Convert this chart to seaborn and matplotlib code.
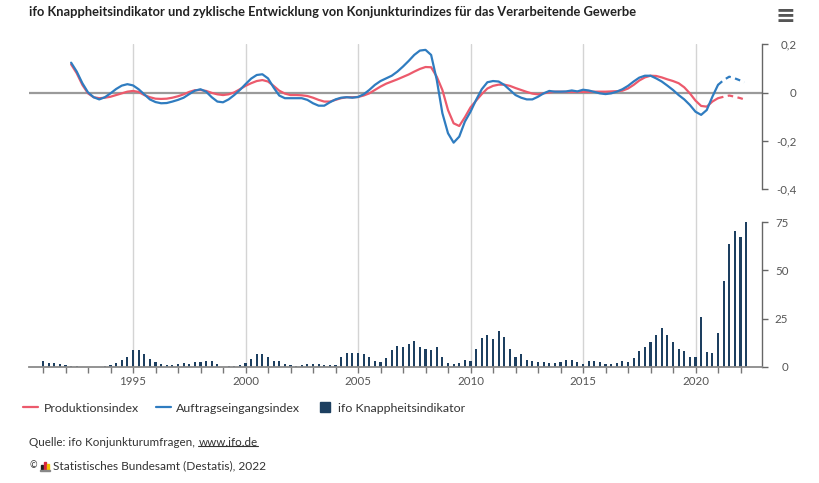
import numpy as np
import pandas as pd
import matplotlib
matplotlib.use("Agg")
import matplotlib.pyplot as plt
import seaborn as sns
from matplotlib.lines import Line2D
from matplotlib.patches import Rectangle
from matplotlib.ticker import FixedLocator, FuncFormatter

# ---------------- data ----------------
line_years = np.append(np.arange(1992.25, 2022.01, 0.25), 2022.17)

auftragseingang = [
    0.124, 0.087, 0.039, 0.001, -0.019, -0.028, -0.019, -0.003,   # 1992.25-1994.0
    0.015, 0.029, 0.035, 0.030, 0.014, -0.007, -0.028, -0.039,    # 1994.25-1996.0
    -0.044, -0.043, -0.037, -0.030, -0.021, -0.006, 0.008, 0.014, # 1996.25-1998.0
    0.004, -0.019, -0.037, -0.040, -0.028, -0.010, 0.011, 0.035,  # 1998.25-2000.0
    0.058, 0.073, 0.076, 0.059, 0.021, -0.012, -0.023, -0.023,    # 2000.25-2002.0
    -0.023, -0.023, -0.030, -0.044, -0.054, -0.054, -0.040, -0.028,  # 2002.25-2004.0
    -0.021, -0.019, -0.021, -0.018, -0.007, 0.011, 0.032, 0.048,  # 2004.25-2006.0
    0.059, 0.070, 0.087, 0.108, 0.131, 0.156, 0.174, 0.177,       # 2006.25-2008.0
    0.156, 0.053, -0.085, -0.168, -0.207, -0.182, -0.120, -0.079, # 2008.25-2010.0
    -0.030, 0.014, 0.043, 0.048, 0.046, 0.032, 0.011, -0.010,     # 2010.25-2012.0
    -0.021, -0.028, -0.028, -0.017, -0.003, 0.007, 0.004, 0.004,  # 2012.25-2014.0
    0.005, 0.009, 0.005, 0.012, 0.009, 0.003, -0.003, -0.006,     # 2014.25-2016.0
    -0.003, 0.004, 0.014, 0.028, 0.046, 0.062, 0.070, 0.070,      # 2016.25-2018.0
    0.059, 0.046, 0.029, 0.011, -0.010, -0.028, -0.051, -0.079,   # 2018.25-2020.0
    -0.092, -0.072, -0.017, 0.032, 0.052, 0.066, 0.059, 0.050,    # 2020.25-2022.0
    0.043,
]

produktion = [
    0.117, 0.080, 0.032, -0.003, -0.019, -0.023, -0.021, -0.017,
    -0.010, -0.003, 0.004, 0.007, 0.003, -0.010, -0.019, -0.025,
    -0.026, -0.025, -0.021, -0.015, -0.007, 0.003, 0.010, 0.011,
    0.007, -0.001, -0.007, -0.010, -0.007, 0.001, 0.014, 0.028,
    0.039, 0.048, 0.052, 0.046, 0.028, 0.008, -0.004, -0.010,
    -0.010, -0.011, -0.014, -0.021, -0.030, -0.037, -0.037, -0.030,
    -0.023, -0.019, -0.019, -0.018, -0.012, -0.003, 0.011, 0.025,
    0.037, 0.046, 0.055, 0.065, 0.075, 0.087, 0.098, 0.106,
    0.105, 0.066, 0.011, -0.072, -0.127, -0.138, -0.102, -0.061,
    -0.033, -0.006, 0.017, 0.028, 0.033, 0.033, 0.028, 0.019,
    0.011, 0.003, -0.004, -0.007, -0.003, 0.001, 0.004, 0.004,
    0.003, 0.003, 0.003, 0.003, 0.003, 0.004, 0.004, 0.004,
    0.005, 0.006, 0.008, 0.017, 0.032, 0.050, 0.063, 0.070,
    0.069, 0.063, 0.055, 0.048, 0.039, 0.022, -0.003, -0.033,
    -0.055, -0.058, -0.037, -0.023, -0.017, -0.012, -0.017, -0.023,
    -0.028,
]

bar_years = np.arange(1991.0, 2022.26, 0.25)
knappheit = [
    2.8, 1.9, 1.9, 1.4,    # 1991
    1.0, 0.5, 0.5, 0.0,    # 1992
    0.0, 0.0, 0.0, 0.5,    # 1993
    0.7, 1.9, 3.6, 5.0,    # 1994
    8.7, 8.7, 6.4, 4.0,    # 1995
    2.4, 1.4, 0.9, 0.9,    # 1996
    1.4, 1.9, 1.4, 2.3,    # 1997
    2.3, 3.1, 2.8, 1.4,    # 1998
    0.0, 0.5, 0.5, 1.0,    # 1999
    1.9, 4.0, 6.8, 6.8,    # 2000
    5.0, 3.1, 2.8, 1.4,    # 2001
    0.9, 0.5, 0.9, 1.4,    # 2002
    1.4, 1.4, 0.9, 0.9,    # 2003
    0.9, 5.0, 7.2, 7.2,    # 2004
    7.2, 6.4, 5.0, 3.1,    # 2005
    2.7, 4.5, 8.7, 10.8,   # 2006
    10.4, 11.8, 13.1, 10.4,  # 2007
    9.1, 8.7, 10.4, 5.0,   # 2008
    1.8, 1.4, 1.8, 3.6,    # 2009
    3.2, 9.1, 14.9, 16.3,  # 2010
    14.5, 18.5, 15.5, 9.1,  # 2011
    5.0, 6.4, 3.6, 2.8,    # 2012
    2.3, 2.3, 1.8, 1.8,    # 2013
    2.3, 3.6, 3.6, 2.3,    # 2014
    1.3, 2.9, 2.9, 2.3,    # 2015
    1.3, 1.3, 1.8, 3.2,    # 2016
    2.3, 4.4, 8.2, 10.0,   # 2017
    12.7, 16.3, 19.9, 16.3,  # 2018
    12.7, 9.0, 8.2, 5.0,   # 2019
    5.0, 25.7, 7.6, 7.2,   # 2020
    17.6, 44.7, 63.8, 70.6,  # 2021
    67.4, 75.4,            # 2022
]

forecast_start = 2021.0
series_labels = ["Produktionsindex", "Auftragseingangsindex", "ifo Knappheitsindikator"]
top_ticks = [0.2, 0.0, -0.2, -0.4]
bottom_ticks = [0, 25, 50, 75]
label_years = [1995, 2000, 2005, 2010, 2015, 2020]

title = "ifo Knappheitsindikator und zyklische Entwicklung von Konjunkturindizes für das Verarbeitende Gewerbe"
source_prefix = "Quelle: ifo Konjunkturumfragen,"
source_link = "www.ifo.de"
copyright_txt = "Statistisches Bundesamt (Destatis), 2022"

# ---------------- style ----------------
RED = "#ec5a6c"
BLUE = "#2f7cc0"
NAVY = "#1d3f60"
GRID = "#d4d4d4"
TXT = "#333333"

sns.set_theme(style="white")
plt.rcParams["font.family"] = ["Lato", "DejaVu Sans"]

W, H = 819, 483
fig = plt.figure(figsize=(W / 100, H / 100), dpi=100)
fig.patch.set_facecolor("white")


def fx(px):
    return px / W


def fy(py):
    return 1 - py / H


L, R = 29, 762
TOP_Y0, TOP_Y1 = 44.3, 189.3
BOT_Y0, BOT_Y1 = 222.3, 366.7
xmin = 1990 + (L - 20.5) / 22.5
xmax = 1990 + (R - 20.5) / 22.5

bg = fig.add_axes([fx(L), fy(BOT_Y1), fx(R - L), (BOT_Y1 - TOP_Y0) / H], zorder=0)
top_ax = fig.add_axes([fx(L), fy(TOP_Y1), fx(R - L), (TOP_Y1 - TOP_Y0) / H], zorder=2)
bot_ax = fig.add_axes([fx(L), fy(BOT_Y1), fx(R - L), (BOT_Y1 - BOT_Y0) / H], zorder=2)

# background vertical grid
bg.set_xlim(xmin, xmax)
bg.set_ylim(0, 1)
for yr in label_years:
    bg.axvline(yr, color=GRID, lw=1.0)
bg.axis("off")

# ---------------- top panel: lines ----------------
df_lines = pd.DataFrame({
    "Jahr": np.concatenate([line_years, line_years]),
    "Wert": np.concatenate([produktion, auftragseingang]),
    "Reihe": [series_labels[0]] * len(line_years) + [series_labels[1]] * len(line_years),
})
colors = {series_labels[0]: RED, series_labels[1]: BLUE}
top_ax.axhline(0, color="#9a9a9a", lw=1.6, zorder=1)
for name, col in colors.items():
    d = df_lines[df_lines["Reihe"] == name]
    solid = d[d["Jahr"] <= forecast_start]
    dashed = d[d["Jahr"] >= forecast_start]
    sns.lineplot(data=solid, x="Jahr", y="Wert", ax=top_ax, color=col, lw=1.6,
                 errorbar=None, zorder=3)
    sns.lineplot(data=dashed, x="Jahr", y="Wert", ax=top_ax, color=col, lw=1.6,
                 linestyle=(0, (2.5, 2)), errorbar=None, zorder=3)

top_ax.set_xlim(xmin, xmax)
top_ax.set_ylim(-0.4, 0.2)
top_ax.patch.set_alpha(0)
for s in ["left", "top", "bottom"]:
    top_ax.spines[s].set_visible(False)
top_ax.spines["right"].set_color("#666666")
top_ax.spines["right"].set_linewidth(1.0)
top_ax.yaxis.tick_right()
top_ax.yaxis.set_major_locator(FixedLocator(top_ticks))
top_ax.yaxis.set_major_formatter(FuncFormatter(lambda v, p: ("%g" % round(v, 2)).replace(".", ",")))
top_ax.tick_params(axis="y", which="major", direction="out", length=4, width=1,
                   color="#666666", labelcolor="#555555", labelsize=8.3, pad=21,
                   right=True, left=False)
top_ax.set_xticks([])
top_ax.set_xlabel("")
top_ax.set_ylabel("")
for lbl in top_ax.get_yticklabels():
    lbl.set_horizontalalignment("right")

# ---------------- bottom panel: bars ----------------
df_bars = pd.DataFrame({"Jahr": bar_years, "Wert": knappheit})
sns.barplot(data=df_bars, x="Jahr", y="Wert", native_scale=True, width=0.36,
            color=NAVY, saturation=1, errorbar=None, linewidth=0, ax=bot_ax)
bot_ax.set_xlim(xmin, xmax)
bot_ax.set_ylim(0, 75)
bot_ax.patch.set_alpha(0)
for s in ["left", "top"]:
    bot_ax.spines[s].set_visible(False)
bot_ax.spines["right"].set_color("#666666")
bot_ax.spines["right"].set_linewidth(1.0)
bot_ax.spines["bottom"].set_color("#8a8a8a")
bot_ax.spines["bottom"].set_linewidth(1.3)
bot_ax.yaxis.tick_right()
bot_ax.yaxis.set_major_locator(FixedLocator(bottom_ticks))
bot_ax.yaxis.set_major_formatter(FuncFormatter(lambda v, p: "%d" % v))
bot_ax.tick_params(axis="y", which="major", direction="out", length=4, width=1,
                   color="#666666", labelcolor="#555555", labelsize=8.3, pad=15,
                   right=True, left=False)
for lbl in bot_ax.get_yticklabels():
    lbl.set_horizontalalignment("right")
bot_ax.xaxis.set_major_locator(FixedLocator(list(range(1991, 2023))))
bot_ax.xaxis.set_major_formatter(FuncFormatter(lambda v, p: str(int(round(v))) if int(round(v)) in label_years else ""))
bot_ax.tick_params(axis="x", which="major", direction="out", length=4, width=1,
                   color="#777777", labelcolor="#555555", labelsize=8.3, pad=2.5,
                   bottom=True)
bot_ax.set_xlabel("")
bot_ax.set_ylabel("")

# ---------------- texts ----------------
fig.text(fx(29), fy(12), title, fontsize=9.3, fontweight="bold", color="#222222",
         ha="left", va="center")
fig.text(fx(785), fy(16), "\u2261", fontsize=17, color="#555555", ha="center",
         va="center", family="DejaVu Sans", fontweight="bold")

handles = [
    Line2D([], [], color=RED, lw=1.6),
    Line2D([], [], color=BLUE, lw=1.6),
    Line2D([], [], color=NAVY, marker="s", linestyle="None", markersize=7.5),
]
fig.legend(handles, series_labels, loc="center left",
           bbox_to_anchor=(fx(23), fy(408)), ncol=3, frameon=False,
           fontsize=8.9, handlelength=1.25, handletextpad=0.4,
           columnspacing=1.4, labelcolor=TXT, borderaxespad=0, borderpad=0)

t1 = fig.text(fx(29), fy(442), source_prefix, fontsize=8.4, color=TXT,
              ha="left", va="center")
fig.canvas.draw()
rend = fig.canvas.get_renderer()
bb = t1.get_window_extent(renderer=rend)
x_link = bb.x1 + 3.5
t2 = fig.text(x_link / W, fy(442), source_link, fontsize=8.4, color=TXT,
              ha="left", va="center")
fig.canvas.draw()
bb2 = t2.get_window_extent(renderer=rend)
fig.add_artist(Line2D([bb2.x0 / W, bb2.x1 / W], [(bb2.y0 + 1.5) / H] * 2,
                      color=TXT, lw=0.8))

fig.text(fx(29), fy(466), "\u00a9", fontsize=6.5, color=TXT, ha="left", va="center")
# small Destatis logo
for (x0, h, c) in [(41, 5, "#222222"), (44, 8, "#d7263d"), (47, 6, "#f2c400")]:
    fig.add_artist(Rectangle((fx(x0), fy(470)), 2.2 / W, h / H, color=c,
                             transform=fig.transFigure))
fig.add_artist(Rectangle((fx(40), fy(470.5)), 10 / W, 1 / H, color="#888888",
                         transform=fig.transFigure))
fig.text(fx(53), fy(466), copyright_txt, fontsize=8.6, color=TXT, ha="left", va="center")

fig.savefig("out.png", dpi=100, facecolor="white")
